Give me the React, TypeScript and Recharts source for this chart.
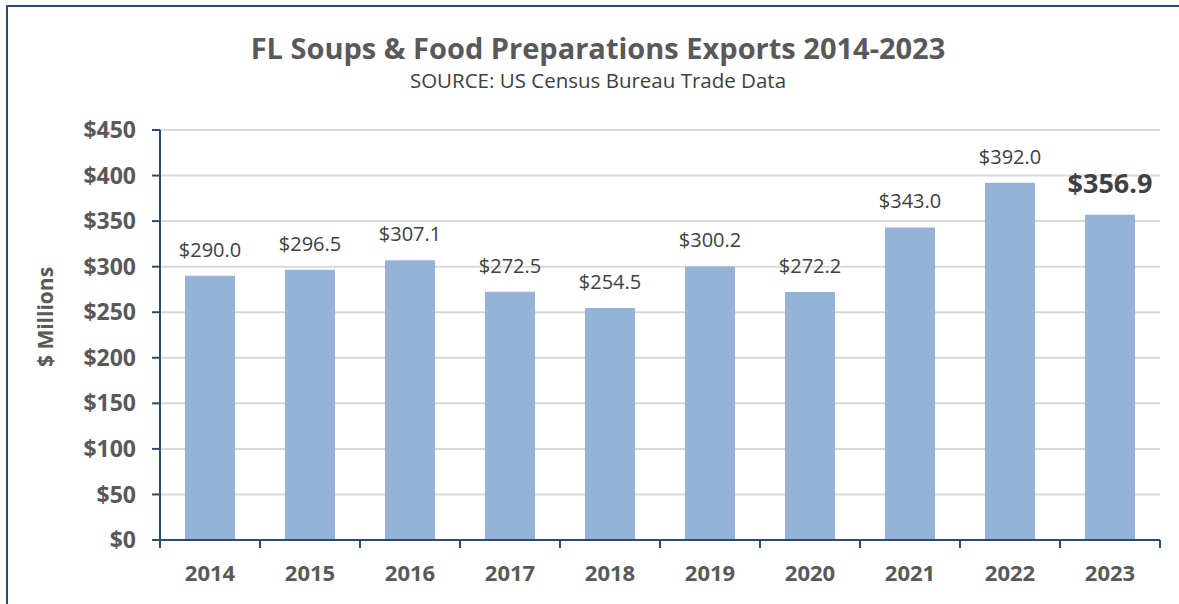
import React from 'react';
import { BarChart, Bar, XAxis, YAxis, CartesianGrid, LabelList } from 'recharts';

const years = ['2014', '2015', '2016', '2017', '2018', '2019', '2020', '2021', '2022', '2023'];
const exportsMillions = [290.0, 296.5, 307.1, 272.5, 254.5, 300.2, 272.2, 343.0, 392.0, 356.9];
const yTicks = [0, 50, 100, 150, 200, 250, 300, 350, 400, 450];

const data = years.map((year, i) => ({ year, value: exportsMillions[i] }));

const NAVY = '#2b4a70';
const FONT = '"Open Sans", sans-serif';

const BarLabel = (props: any) => {
  const { x, y, width, value, index } = props;
  const last = index === exportsMillions.length - 1;
  return (
    <text
      x={x + width / 2}
      y={y - (last ? 22 : 19)}
      textAnchor="middle"
      fill="#404040"
      fontFamily={FONT}
      fontSize={last ? 27 : 20}
      fontWeight={last ? 700 : 400}
    >
      {`$${Number(value).toFixed(1)}`}
    </text>
  );
};

// category label plus tick marks on the category boundaries
const YearTick = (props: any) => {
  const { x, y, payload, index } = props;
  const half = payload?.offset ?? 50;
  const axisY = y - 25;
  const last = index === years.length - 1;
  return (
    <g>
      <line x1={x - half} x2={x - half} y1={axisY} y2={axisY + 8} stroke={NAVY} strokeWidth={2} />
      {last && <line x1={x + half} x2={x + half} y1={axisY} y2={axisY + 8} stroke={NAVY} strokeWidth={2} />}
      <text x={x} y={y} dy="0.71em" textAnchor="middle" fill="#595959" fontFamily={FONT} fontSize={22} fontWeight={700}>
        {payload.value}
      </text>
    </g>
  );
};

const App: React.FC = () => {
  return (
    <div style={{ position: 'absolute', left: 0, top: 0, width: 1179, height: 604, background: '#fff', fontFamily: FONT }}>
      <div style={{ position: 'absolute', left: 6, top: 5, right: 0, bottom: 0, borderLeft: `2px solid ${NAVY}`, borderTop: `2px solid ${NAVY}` }} />
      <div style={{ position: 'absolute', left: 0, width: 1196, top: 33, textAlign: 'center', fontSize: 29, lineHeight: 1, fontWeight: 700, color: '#595959' }}>
        FL Soups &amp; Food Preparations Exports 2014-2023
      </div>
      <div style={{ position: 'absolute', left: 0, width: 1196, top: 70, textAlign: 'center', fontSize: 20.5, lineHeight: 1, color: '#404040' }}>
        SOURCE: US Census Bureau Trade Data
      </div>
      <div style={{ position: 'absolute', left: 0, top: 0 }}>
        <BarChart width={1179} height={604} data={data} margin={{ top: 130, right: 19, bottom: 0, left: 0 }} barSize={50}>
          <CartesianGrid vertical={false} stroke="#d9d9d9" strokeWidth={2} />
          <XAxis
            dataKey="year"
            height={64}
            tickLine={false}
            tickSize={0}
            tickMargin={25}
            interval={0}
            axisLine={{ stroke: NAVY, strokeWidth: 2 }}
            tick={<YearTick />}
          />
          <YAxis
            width={160}
            domain={[0, 450]}
            ticks={yTicks}
            tickSize={8}
            tickMargin={16}
            tickFormatter={(v: number) => `$${v}`}
            axisLine={{ stroke: NAVY, strokeWidth: 2 }}
            tickLine={{ stroke: NAVY, strokeWidth: 2 }}
            tick={{ fill: '#595959', fontSize: 23, fontWeight: 700, fontFamily: FONT }}
            label={{
              content: () => (
                <text
                  x={45}
                  y={317}
                  transform="rotate(-90 45 317)"
                  textAnchor="middle"
                  dominantBaseline="central"
                  fill="#595959"
                  fontFamily={FONT}
                  fontSize={21}
                  fontWeight={700}
                >
                  $ Millions
                </text>
              ),
            }}
          />
          <Bar dataKey="value" fill="#95b3d7" isAnimationActive={false}>
            <LabelList dataKey="value" content={BarLabel} />
          </Bar>
        </BarChart>
      </div>
    </div>
  );
};

export default App;
